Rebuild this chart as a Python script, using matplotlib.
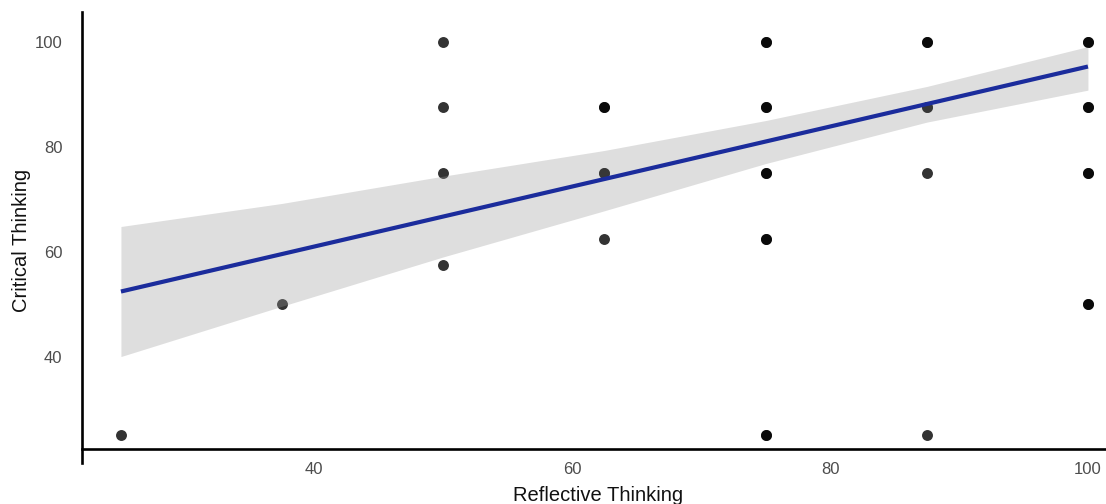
import matplotlib
matplotlib.use("Agg")
import matplotlib.pyplot as plt

plt.rcParams['font.family'] = ['Liberation Sans', 'DejaVu Sans']

# Scores per respondent (repeated pairs overlap on the grid)
reflective = [25, 37.5,
              50, 50, 50, 50,
              62.5, 62.5, 62.5, 62.5, 62.5,
              75, 75, 75, 75, 75, 75, 75, 75, 75, 75,
              87.5, 87.5, 87.5, 87.5, 87.5, 87.5,
              100, 100, 100, 100, 100, 100, 100, 100]
critical = [25, 50,
            100, 87.5, 75, 57.5,
            87.5, 87.5, 75, 75, 62.5,
            100, 100, 87.5, 87.5, 75, 75, 62.5, 62.5, 25, 25,
            100, 100, 87.5, 87.5, 75, 25,
            100, 100, 87.5, 87.5, 75, 75, 50, 50]

# Linear fit and its 95% confidence band
fit_x = [25, 100]
fit_y = [52.4, 95.3]
band_x = [25, 37.5, 50, 62.5, 75, 87.5, 100]
band_lo = [40.0, 49.6, 59.0, 67.8, 76.8, 84.7, 90.8]
band_hi = [64.8, 69.2, 74.4, 79.3, 85.0, 91.5, 99.1]

x_ticks = [40, 60, 80, 100]
y_ticks = [40, 60, 80, 100]

fig = plt.figure(figsize=(11.06, 5.04), dpi=100)
ax = fig.add_axes([82 / 1106, 41 / 504, 1024 / 1106, 451 / 504])

ax.scatter(reflective, critical, s=62, color='black', alpha=0.8,
           linewidths=0, zorder=2)
ax.fill_between(band_x, band_lo, band_hi, color='#999999', alpha=0.32,
                linewidth=0, zorder=3)
ax.plot(fit_x, fit_y, color='#1b2c9c', linewidth=3.0,
        solid_capstyle='butt', zorder=4)

ax.set_xlim(21.98, 101.4)
ax.set_ylim(19.7, 105.7)
ax.set_xticks(x_ticks)
ax.set_yticks(y_ticks)

for side in ('top', 'right'):
    ax.spines[side].set_visible(False)
ax.spines['left'].set_linewidth(1.9)
ax.spines['bottom'].set_linewidth(1.9)
ax.spines['bottom'].set_position(('data', 22.3))
ax.spines['left'].set_color('black')
ax.spines['bottom'].set_color('black')

ax.tick_params(axis='x', length=0, pad=9, labelsize=12, labelcolor='#4d4d4d')
ax.tick_params(axis='y', length=0, pad=14, labelsize=12, labelcolor='#4d4d4d')

ax.set_xlabel('Reflective Thinking', fontsize=14.5, color='#111111')
ax.set_ylabel('Critical Thinking', fontsize=14.5, color='#111111')
ax.xaxis.set_label_coords(0.504, -0.052)
ax.yaxis.set_label_coords(-0.05, 0.494)

fig.savefig('out.png', dpi=100, facecolor='white')
